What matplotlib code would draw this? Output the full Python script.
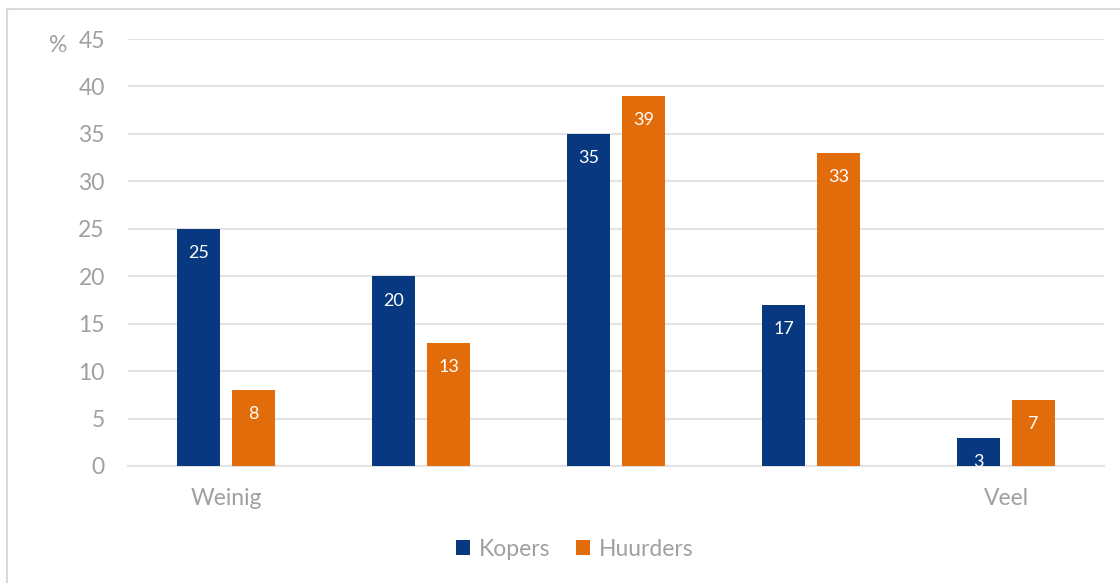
import matplotlib.pyplot as plt
import numpy as np
from matplotlib.patches import Rectangle

plt.rcParams['font.family'] = ['Lato', 'DejaVu Sans']

categories = ['Weinig', '', '', '', 'Veel']
kopers = [25, 20, 35, 17, 3]
huurders = [8, 13, 39, 33, 7]

BLUE = '#08387F'
ORANGE = '#E36C0A'
GREY = '#A0A0A0'
GRID = '#E3E3E3'

fig = plt.figure(figsize=(11.2, 5.83), dpi=100)
ax = fig.add_axes([0.1147, 0.2007, 0.8706, 0.7324])

x = np.arange(len(categories))
w = 0.222
off = 0.141
b1 = ax.bar(x - off, kopers, w, color=BLUE, label='Kopers', zorder=3)
b2 = ax.bar(x + off, huurders, w, color=ORANGE, label='Huurders', zorder=3)

for bars, vals in ((b1, kopers), (b2, huurders)):
    for r, v in zip(bars, vals):
        ax.annotate(str(v), (r.get_x() + r.get_width() / 2, v),
                    xytext=(0, -17.5), textcoords='offset points',
                    ha='center', va='center', color='white',
                    fontsize=13, zorder=4)

ax.set_xlim(-0.5, len(categories) - 0.5)
ax.set_ylim(0, 45)
ax.set_yticks(range(0, 46, 5))
ax.yaxis.grid(True, color=GRID, linewidth=1.5, zorder=0)
ax.set_axisbelow(True)
for s in ['top', 'right', 'left']:
    ax.spines[s].set_visible(False)
ax.spines['bottom'].set_color(GRID)
ax.spines['bottom'].set_linewidth(1.5)
ax.tick_params(axis='both', length=0, colors=GREY, labelsize=16.5)
ax.tick_params(axis='y', pad=17)
ax.tick_params(axis='x', pad=16)
ax.set_xticks(x)
ax.set_xticklabels(categories)

fig.text(58 / 1120, 1 - 45 / 583, '%', color=GREY, fontsize=16.5,
         ha='center', va='center')

leg = fig.legend(handles=[b1, b2], loc='center', bbox_to_anchor=(575 / 1120, 1 - 549 / 583),
                 ncol=2, frameon=False, fontsize=16.5, handlelength=0.6, handleheight=0.6,
                 handletextpad=0.4, columnspacing=1.1)
for t in leg.get_texts():
    t.set_color(GREY)

fig.patches.append(Rectangle((7 / 1120, -0.1), 1.2, 1 - 9 / 583 + 0.1,
                             transform=fig.transFigure, fill=False,
                             edgecolor='#D9D9D9', linewidth=1.5))

fig.savefig('out.png', dpi=100)
